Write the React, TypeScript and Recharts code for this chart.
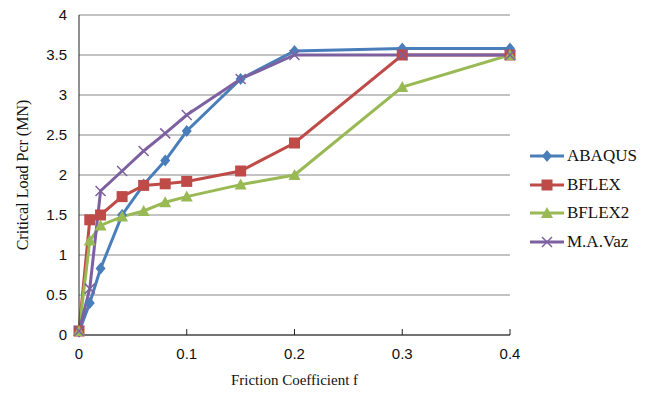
import React from 'react';
import { LineChart, Line, XAxis, YAxis, CartesianGrid } from 'recharts';

// friction coefficient values (x axis)
const frictionCoeff = [0, 0.01, 0.02, 0.04, 0.06, 0.08, 0.1, 0.15, 0.2, 0.3, 0.4];

// critical load (MN) per method
const abaqus = [0.04, 0.4, 0.83, 1.5, 1.88, 2.18, 2.55, 3.2, 3.55, 3.58, 3.58];
const bflex = [0.05, 1.44, 1.5, 1.73, 1.87, 1.89, 1.92, 2.05, 2.4, 3.5, 3.5];
const bflex2 = [0.05, 1.18, 1.37, 1.48, 1.55, 1.66, 1.73, 1.88, 2.0, 3.1, 3.5];
const maVaz = [0.05, 0.58, 1.8, 2.05, 2.3, 2.52, 2.75, 3.2, 3.5, 3.5, 3.5];

const xTicks = [0, 0.1, 0.2, 0.3, 0.4];
const yTicks = [0, 0.5, 1, 1.5, 2, 2.5, 3, 3.5, 4];

const data = frictionCoeff.map((f, i) => ({
  f,
  abaqus: abaqus[i],
  bflex: bflex[i],
  bflex2: bflex2[i],
  maVaz: maVaz[i],
}));

const series = [
  { key: 'abaqus', name: 'ABAQUS', color: '#4A7EBB', shape: 'diamond' },
  { key: 'bflex', name: 'BFLEX', color: '#BE4B48', shape: 'square' },
  { key: 'bflex2', name: 'BFLEX2', color: '#98B954', shape: 'triangle' },
  { key: 'maVaz', name: 'M.A.Vaz', color: '#7D60A0', shape: 'cross' },
];

const Marker = ({ cx, cy, shape, color }) => {
  if (cx == null || cy == null) return null;
  if (shape === 'diamond')
    return <polygon points={`${cx},${cy - 6} ${cx + 5},${cy} ${cx},${cy + 6} ${cx - 5},${cy}`} fill={color} />;
  if (shape === 'square')
    return <rect x={cx - 5.5} y={cy - 5.5} width={11} height={11} fill={color} />;
  if (shape === 'triangle')
    return <polygon points={`${cx},${cy - 6} ${cx + 6},${cy + 5} ${cx - 6},${cy + 5}`} fill={color} />;
  return (
    <g stroke={color} strokeWidth={1.5}>
      <line x1={cx - 5} y1={cy - 5} x2={cx + 5} y2={cy + 5} />
      <line x1={cx - 5} y1={cy + 5} x2={cx + 5} y2={cy - 5} />
    </g>
  );
};

const LegendBox = () => (
  <div style={{ position: 'absolute', left: 528, top: 142 }}>
    {series.map((s) => (
      <div key={s.key} style={{ display: 'flex', alignItems: 'center', height: 28.5 }}>
        <svg width={38} height={14}>
          <line x1={2} y1={7} x2={36} y2={7} stroke={s.color} strokeWidth={3} />
          <Marker cx={19} cy={7} shape={s.shape} color={s.color} />
        </svg>
        <span style={{ fontFamily: '"Liberation Serif", serif', fontSize: 17, color: '#111', marginLeft: 1 }}>
          {s.name}
        </span>
      </div>
    ))}
  </div>
);

export default function App() {
  return (
    <div style={{ position: 'absolute', left: 0, top: 0, width: 652, height: 398, background: '#fff' }}>
      <LineChart width={652} height={398} data={data} margin={{ top: 15, right: 142, left: 0, bottom: 0 }}>
        <CartesianGrid vertical={false} stroke="#878787" strokeWidth={1} />
        <XAxis
          dataKey="f"
          type="number"
          domain={[0, 0.4]}
          ticks={xTicks}
          height={63}
          stroke="#222"
          tickSize={-6}
          tickMargin={19}
          tick={{ fill: '#111', fontSize: 15, fontFamily: '"Liberation Sans", Arial, sans-serif' }}
        />
        <YAxis
          domain={[0, 4]}
          ticks={yTicks}
          width={79}
          stroke="#222"
          tickLine={false}
          tickSize={0}
          tickMargin={12}
          tick={{ fill: '#111', fontSize: 15, fontFamily: '"Liberation Sans", Arial, sans-serif' }}
        />
        {series.map((s) => (
          <Line
            key={s.key}
            dataKey={s.key}
            name={s.name}
            type="linear"
            stroke={s.color}
            strokeWidth={3}
            isAnimationActive={false}
            dot={(p) => <Marker key={`${s.key}-${p.index}`} cx={p.cx} cy={p.cy} shape={s.shape} color={s.color} />}
            activeDot={false}
          />
        ))}
      </LineChart>
      <LegendBox />
      <div
        style={{
          position: 'absolute',
          left: 0,
          top: 372,
          width: 589,
          textAlign: 'center',
          fontFamily: '"Liberation Serif", serif',
          fontSize: 15,
          color: '#111',
        }}
      >
        Friction Coefficient f
      </div>
      <div
        style={{
          position: 'absolute',
          left: 23,
          top: 175,
          transform: 'translate(-50%, -50%) rotate(-90deg)',
          whiteSpace: 'nowrap',
          fontFamily: '"Liberation Serif", serif',
          fontSize: 16,
          color: '#111',
        }}
      >
        Critical Load Pcr (MN)
      </div>
    </div>
  );
}
